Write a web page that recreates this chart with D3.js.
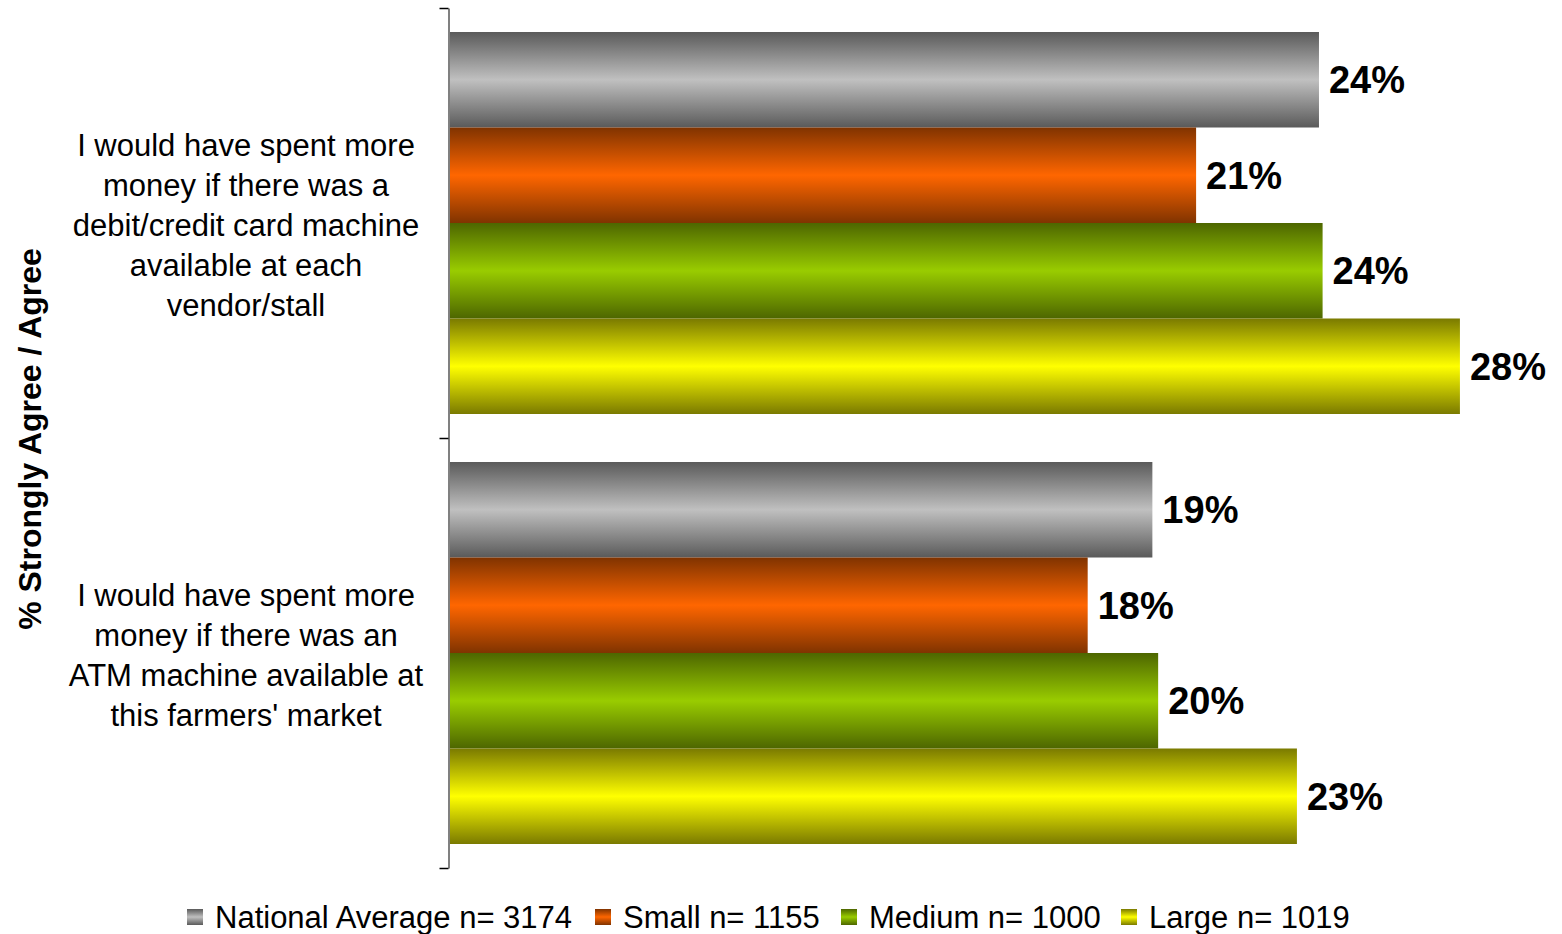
<!DOCTYPE html>
<html>
<head>
    <meta charset="utf-8">
    <title>Spending and payment options</title>
    <script src="https://d3js.org/d3.v7.min.js"></script>
    <style>
        body { margin: 0; background: #fff; }
        text { font-family: "Liberation Sans", Arial, sans-serif; }
    </style>
</head>
<body>
<svg width="1562" height="934"></svg>
<script>
    const width = 1562;
    const height = 934;

    // Data
    const categories = [
        "I would have spent more|money if there was a|debit/credit card machine|available at each|vendor/stall",
        "I would have spent more|money if there was an|ATM machine available at|this farmers' market"
    ];
    const seriesNames = ["National Average n= 3174", "Small n= 1155", "Medium n= 1000", "Large n= 1019"];
    const nationalAverage = [24.1, 19.49];
    const small = [20.7, 17.7];
    const medium = [24.2, 19.65];
    const large = [28.0, 23.49];
    const seriesValues = [nationalAverage, small, medium, large];

    // gradient stops: edge colour, centre colour
    const seriesColors = [
        ["#5a5a5a", "#c0c0c0"],
        ["#803300", "#ff6600"],
        ["#4d6600", "#99cc00"],
        ["#7a7a00", "#ffff00"]
    ];

    const svg = d3.select("svg");
    const defs = svg.append("defs");

    seriesColors.forEach((c, i) => {
        const g = defs.append("linearGradient")
            .attr("id", "grad" + i)
            .attr("x1", 0).attr("y1", 0).attr("x2", 0).attr("y2", 1);
        g.append("stop").attr("offset", "0%").attr("stop-color", c[0]);
        g.append("stop").attr("offset", "50%").attr("stop-color", c[1]);
        g.append("stop").attr("offset", "100%").attr("stop-color", c[0]);
    });

    const x0 = 448;
    const x = d3.scaleLinear().domain([0, 30]).range([x0, x0 + 30 * 36.14]);

    const y = d3.scaleBand().domain(d3.range(categories.length)).range([8, 868]);
    const yInner = d3.scaleBand().domain(d3.range(seriesNames.length))
        .range([24, y.bandwidth() - 24]);

    // bars
    categories.forEach((cat, ci) => {
        const g = svg.append("g").attr("transform", `translate(0,${y(ci)})`);
        const rows = seriesValues.map((vals, si) => ({ si, v: vals[ci] }));

        g.selectAll("rect")
            .data(rows)
            .join("rect")
            .attr("x", x(0))
            .attr("y", d => yInner(d.si))
            .attr("width", d => x(d.v) - x(0))
            .attr("height", yInner.bandwidth())
            .attr("fill", d => `url(#grad${d.si})`);

        g.selectAll("text.val")
            .data(rows)
            .join("text")
            .attr("class", "val")
            .attr("x", d => x(d.v) + 10)
            .attr("y", d => yInner(d.si) + yInner.bandwidth() / 2)
            .attr("dy", "0.36em")
            .attr("font-size", 38)
            .attr("font-weight", "bold")
            .text(d => Math.round(d.v) + "%");

        // category label
        const lines = cat.split("|");
        const cy = y.bandwidth() / 2 + 2;
        const t = g.append("text")
            .attr("text-anchor", "middle")
            .attr("font-size", 31);
        lines.forEach((l, li) => {
            t.append("tspan")
                .attr("x", 246)
                .attr("y", cy + (li - (lines.length - 1) / 2) * 40)
                .attr("dy", "0.36em")
                .text(l);
        });
    });

    // axis
    const axis = d3.axisLeft(d3.scaleLinear().domain([0, 2]).range([8, 868]))
        .tickValues([0, 1, 2]).tickFormat("").tickSize(9).tickSizeOuter(0);
    const ax = svg.append("g").attr("transform", `translate(${x0 + 0.5},0)`).call(axis);
    ax.select(".domain").attr("stroke", "#808080").attr("stroke-width", 2);
    ax.selectAll(".tick line").attr("stroke", "#000").attr("stroke-width", 1.5);

    // y title
    svg.append("text")
        .attr("transform", `translate(41,439) rotate(-90)`)
        .attr("text-anchor", "middle")
        .attr("font-size", 32)
        .attr("font-weight", "bold")
        .text("% Strongly Agree / Agree");

    // legend
    const legendX = [187, 595, 841, 1121];
    const legend = svg.append("g").attr("transform", "translate(0,917)");
    seriesNames.forEach((name, i) => {
        legend.append("rect")
            .attr("x", legendX[i]).attr("y", -8)
            .attr("width", 16).attr("height", 16)
            .attr("fill", `url(#grad${i})`);
        legend.append("text")
            .attr("x", legendX[i] + 28)
            .attr("y", 0)
            .attr("dy", "0.36em")
            .attr("font-size", 31)
            .text(name);
    });
</script>
</body>
</html>
